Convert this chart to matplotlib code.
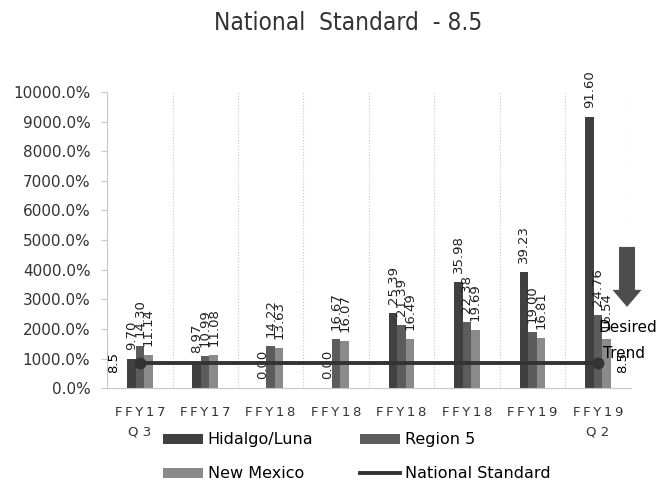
import matplotlib.pyplot as plt
import numpy as np
from matplotlib.ticker import FuncFormatter
from matplotlib.patches import FancyArrow

categories = ['FFY17\nQ 3', 'FFY17\nQ 4', 'FFY18\nQ 1', 'FFY18\nQ 2',
              'FFY18\nQ 3', 'FFY18\nQ 4', 'FFY19\nQ 1', 'FFY19\nQ 2']
hidalgo = [9.70, 8.97, 0.00, 0.00, 25.39, 35.98, 39.23, 91.60]
region5 = [14.30, 10.99, 14.22, 16.67, 21.39, 22.38, 19.00, 24.76]
new_mexico = [11.14, 11.08, 13.63, 16.07, 16.49, 19.69, 16.81, 16.54]
standard = 8.5

fig = plt.figure(figsize=(6.61, 4.87), dpi=100)
ax = fig.add_axes([0.162, 0.203, 0.792, 0.608])

x = np.arange(len(categories))
w = 0.13
bars = []
series = [(hidalgo, '#404040', 'Hidalgo/Luna'),
          (region5, '#5c5c5c', 'Region 5'),
          (new_mexico, '#8a8a8a', 'New Mexico')]
for i, (vals, col, name) in enumerate(series):
    xs = x + (i - 1) * w
    bars.append(ax.bar(xs, vals, w, color=col, label=name, zorder=2))
    for xi, v in zip(xs, vals):
        ax.annotate(f'{v:.2f}', (xi, v), xytext=(0, 6.5), textcoords='offset points',
                    rotation=90, ha='center', va='bottom', fontsize=9.5, color='#222222')

# national standard line
line, = ax.plot([x[0], x[-1]], [standard, standard], color='#333333', lw=2.8,
                marker='o', markersize=7.5, zorder=3)
ax.annotate('8.5', (x[0], standard), xytext=(-19, 0), textcoords='offset points',
            rotation=90, ha='center', va='center', fontsize=9.5)
ax.annotate('8.5', (x[-1], standard), xytext=(18, 0), textcoords='offset points',
            rotation=90, ha='center', va='center', fontsize=9.5)

ax.set_xlim(-0.5, len(categories) - 0.5)
ax.set_ylim(0, 100)
ax.set_yticks(np.arange(0, 101, 10))
ax.yaxis.set_major_formatter(FuncFormatter(lambda v, p: f'{v * 100:.1f}%'))
ax.set_xticks(x)
ax.set_xticklabels([c.replace('FFY', 'F\u2009F\u2009Y\u2009').replace('1', '1\u2009', 1)
                    for c in categories], fontsize=9.5, color='#333333')
for t in ax.get_xticklabels():
    t.set_linespacing(1.65)
ax.tick_params(axis='x', length=0, pad=13)
ax.tick_params(axis='y', labelsize=11, length=4, pad=8, color='#c8c8c8', labelcolor='#333333')
for b in np.arange(0.5, len(categories), 1):
    ax.axvline(b, color='#c8c8c8', lw=0.8, ls=':', zorder=0)
for s in ['top', 'right']:
    ax.spines[s].set_visible(False)
ax.spines['bottom'].set_color('#c8c8c8')
ax.spines['left'].set_color('#c8c8c8')
ax.spines['left'].set_linewidth(0.8)

fig.text(0.527, 0.953, 'National  Standard  - 8.5', fontsize=17.5, ha='center', va='center',
         family='DejaVu Sans', fontstretch='condensed', color='#333333')

handles = [bars[0], bars[2], bars[1], line]
labels = ['Hidalgo/Luna', 'New Mexico', 'Region 5', 'National Standard']
leg = fig.legend(handles, labels, ncol=2, loc='upper left',
                 bbox_to_anchor=(153.4 / 661, 1 - 422.7 / 487), borderaxespad=0,
                 frameon=True, fontsize=11.5, handlelength=2.5, handleheight=0.6,
                 handletextpad=0.3, columnspacing=2.95, labelspacing=1.2,
                 borderpad=0.6, edgecolor='white', facecolor='white', framealpha=1,
                 fancybox=False)
for h in leg.legend_handles:
    if hasattr(h, 'set_marker'):
        h.set_marker('')

# desired trend arrow
arr = FancyArrow(0.9486, 0.493, 0, -0.1232, width=0.0242, head_width=0.0439,
                 head_length=0.035, length_includes_head=True,
                 transform=fig.transFigure, color='#4d4d4d', lw=0)
fig.add_artist(arr)
fig.text(598 / 661, 1 - 328 / 487, 'Desired', fontsize=11, ha='left', va='center')
fig.text(603 / 661, 1 - 353 / 487, 'Trend', fontsize=11, ha='left', va='center')

fig.savefig('out.png', dpi=100)
